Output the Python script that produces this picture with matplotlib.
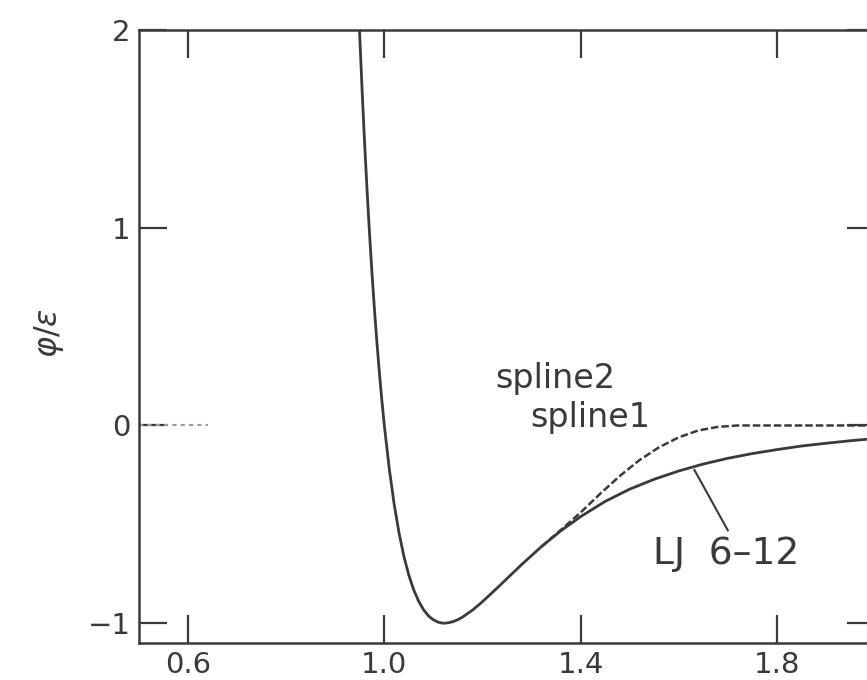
import numpy as np
import matplotlib
matplotlib.use('Agg')
import matplotlib.pyplot as plt

# values (reduced distance r/sigma vs phi/epsilon)
lj_r = [0.949, 0.955, 0.96, 0.965, 0.97, 0.975, 0.98, 0.985, 0.99, 0.995,
        1.00, 1.01, 1.02, 1.03, 1.04, 1.05, 1.06, 1.07, 1.08, 1.09, 1.10,
        1.11, 1.12, 1.13, 1.14, 1.15, 1.16, 1.18, 1.20, 1.22, 1.24, 1.28,
        1.32, 1.36, 1.40, 1.45, 1.50, 1.55, 1.60, 1.65, 1.70, 1.75, 1.80,
        1.85, 1.90, 1.95, 2.00]
lj_phi = [2.02, 1.678, 1.418, 1.181, 0.963, 0.764, 0.582, 0.416, 0.264,
          0.126, 0.0, -0.218, -0.398, -0.544, -0.663, -0.758, -0.832,
          -0.889, -0.932, -0.963, -0.983, -0.995, -1.0, -0.998, -0.992,
          -0.982, -0.968, -0.933, -0.891, -0.845, -0.798, -0.703, -0.613,
          -0.532, -0.461, -0.384, -0.322, -0.272, -0.23, -0.195, -0.166,
          -0.142, -0.122, -0.104, -0.09, -0.077, -0.066]

spline_r = [1.32, 1.36, 1.40, 1.44, 1.48, 1.52, 1.56, 1.60, 1.64, 1.68,
            1.72, 2.00]
spline_phi = [-0.613, -0.528, -0.44, -0.345, -0.255, -0.175, -0.11, -0.06,
              -0.025, -0.007, 0.0, 0.0]

zero_mark_r = [0.5, 0.64]
zero_mark_phi = [0.0, 0.0]

x_ticks = [0.6, 1.0, 1.4, 1.8]
x_labels = ['0.6', '1.0', '1.4', '1.8']
y_ticks = [-1, 0, 1, 2]
y_labels = ['\u22121', '0', '1', '2']

ink = '#3a3a3a'
plt.rcParams['font.family'] = ['DejaVu Sans']

fig = plt.figure(figsize=(8.67, 6.8), dpi=100)
ax = fig.add_axes([139 / 867, 1 - 643 / 680, 736 / 867, 613 / 680])

ax.plot(lj_r, lj_phi, color=ink, lw=2.0, solid_capstyle='butt')
ax.plot(spline_r, spline_phi, color=ink, lw=1.8, linestyle=(0, (3, 1.2)))
ax.plot(zero_mark_r, zero_mark_phi, color='#9a9a9a', lw=1.5,
        linestyle=(0, (2, 2)))

# leader line for the LJ label
ax.plot([1.632, 1.70], [-0.225, -0.53], color=ink, lw=1.5)

ax.text(1.226, 0.236, 'spline2', fontsize=24, color=ink, va='center')
ax.text(1.297, 0.04, 'spline1', fontsize=24, color=ink, va='center')
ax.text(1.548, -0.65, 'LJ  6\u201312', fontsize=27, color=ink, va='center')

ax.set_xlim(0.5, 2.0)
ax.set_ylim(-1.1, 2.0)
ax.set_xticks(x_ticks)
ax.set_xticklabels(x_labels)
ax.set_yticks(y_ticks)
ax.set_yticklabels(y_labels)
ax.tick_params(direction='in', length=20, width=1.6, color=ink,
               labelsize=21, labelcolor=ink, top=True, right=True, pad=6)
for s in ax.spines.values():
    s.set_color(ink)
    s.set_linewidth(1.8)

ax.set_ylabel(r'$\varphi/\varepsilon$', fontsize=23, color=ink)
ax.yaxis.set_label_coords(-0.099, 0.505)

fig.savefig('out.png', dpi=100)
